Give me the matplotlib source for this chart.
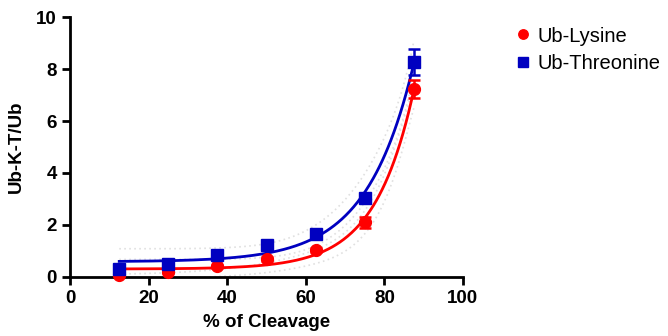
import numpy as np
import matplotlib.pyplot as plt

plt.rcParams['font.family'] = ['Liberation Sans', 'DejaVu Sans']

cleavage = [12.5, 25, 37.5, 50, 62.5, 75, 87.5]
lysine = [0.08, 0.2, 0.4, 0.7, 1.04, 2.1, 7.22]
lysine_err = [0.05, 0.05, 0.05, 0.08, 0.08, 0.2, 0.35]
threonine = [0.3, 0.49, 0.85, 1.23, 1.64, 3.05, 8.26]
threonine_err = [0.05, 0.05, 0.05, 0.08, 0.08, 0.12, 0.5]


def fit_exp(x, y):
    # y = a + b*exp(k*x), grid over k, linear least squares for a, b
    best = None
    for k in np.linspace(0.005, 0.2, 2000):
        A = np.column_stack([np.ones_like(x), np.exp(k * x)])
        coef, res, _, _ = np.linalg.lstsq(A, y, rcond=None)
        sse = np.sum((A @ coef - y) ** 2)
        if best is None or sse < best[0]:
            best = (sse, coef[0], coef[1], k)
    sse, a, b, k = best
    J = np.column_stack([np.ones_like(x), np.exp(k * x), b * x * np.exp(k * x)])
    s2 = sse / (len(x) - 3)
    cov = s2 * np.linalg.pinv(J.T @ J)
    return (a, b, k), cov


def curve(p, xs):
    a, b, k = p
    return a + b * np.exp(k * xs)


def band(p, cov, xs, t=3.2):
    a, b, k = p
    J = np.column_stack([np.ones_like(xs), np.exp(k * xs), b * xs * np.exp(k * xs)])
    se = np.sqrt(np.einsum('ij,jk,ik->i', J, cov, J))
    return t * se


fig = plt.figure(figsize=(6.68, 3.36), dpi=100)
ax = fig.add_axes([0.105, 0.176, 0.588, 0.773])

x = np.array(cleavage)
xs = np.linspace(12.5, 87.5, 300)

series = [
    ('Ub-Lysine', lysine, lysine_err, '#ff0000', 'o'),
    ('Ub-Threonine', threonine, threonine_err, '#0000c0', 's'),
]

for name, y, err, col, mk in series:
    y = np.array(y)
    p, cov = fit_exp(x, y)
    fy = curve(p, xs)
    w = band(p, cov, xs)
    ax.plot(xs, fy + w, ls=(0, (1, 2)), color='#e0e0e0', lw=1.2, zorder=1)
    ax.plot(xs, fy - w, ls=(0, (1, 2)), color='#e0e0e0', lw=1.2, zorder=1)
    ax.plot(xs, fy, color=col, lw=2, zorder=2)
    ax.errorbar(x, y, yerr=err, fmt=mk, color=col, ms=8.5, capsize=4,
                elinewidth=1.8, capthick=1.8, label=name, zorder=3, clip_on=False)

ax.set_xlim(0, 100)
ax.set_ylim(0, 10)
ax.set_xticks([0, 20, 40, 60, 80, 100])
ax.set_yticks([0, 2, 4, 6, 8, 10])
for s in ['top', 'right']:
    ax.spines[s].set_visible(False)
for s in ['left', 'bottom']:
    ax.spines[s].set_linewidth(2)
ax.tick_params(width=2, length=6, labelsize=13.5)
for lab in ax.get_xticklabels() + ax.get_yticklabels():
    lab.set_fontweight('bold')
ax.set_xlabel('% of Cleavage', fontsize=13.5, fontweight='bold', labelpad=5)
ax.set_ylabel('Ub-K-T/Ub', fontsize=13.5, fontweight='bold', labelpad=8)

handles, labels = ax.get_legend_handles_labels()
handles = [h[0] for h in handles]
fig.legend(handles, labels, loc='upper left', bbox_to_anchor=(0.74, 0.975),
           frameon=False, fontsize=14.5, handletextpad=0.25, handlelength=1.0,
           markerscale=0.8, labelspacing=0.4)

fig.savefig('out.png', dpi=100)
